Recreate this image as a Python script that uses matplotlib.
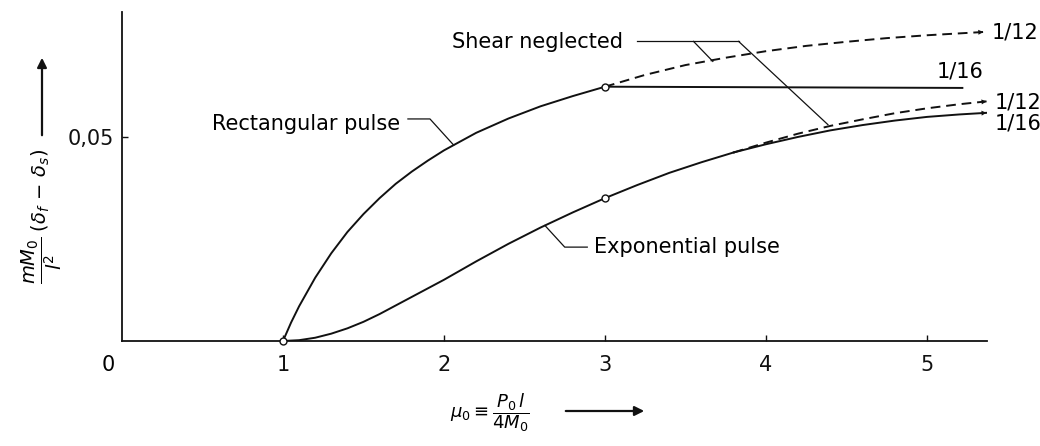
import numpy as np
import matplotlib
matplotlib.use("Agg")
import matplotlib.pyplot as plt
from matplotlib import font_manager

# deflection difference vs. load ratio mu_0
rect_x = [1.0, 1.05, 1.1, 1.2, 1.3, 1.4, 1.5, 1.6, 1.7, 1.8, 1.9, 2.0,
          2.2, 2.4, 2.6, 2.8, 3.0]
rect_y = [0.0, 0.0045, 0.0085, 0.0155, 0.0215, 0.0267, 0.0311, 0.0350, 0.0385,
          0.0415, 0.0442, 0.0467, 0.0510, 0.0545, 0.0575, 0.0600, 0.0623]

rect_12_x = [3.0, 3.25, 3.5, 3.75, 4.0, 4.25, 4.5, 4.75, 5.0, 5.35]
rect_12_y = [0.0623, 0.0652, 0.0676, 0.0694, 0.0710, 0.0723, 0.0733, 0.0742,
             0.0749, 0.0757]

rect_16_x = [3.0, 5.22]
rect_16_y = [0.0623, 0.0620]

exp_x = [1.0, 1.1, 1.2, 1.3, 1.4, 1.5, 1.6, 1.7, 1.8, 1.9, 2.0, 2.2, 2.4, 2.6,
         2.8, 3.0, 3.2, 3.4, 3.6, 3.8]
exp_y = [0.0, 0.0002, 0.0008, 0.0018, 0.0031, 0.0047, 0.0066, 0.0087, 0.0108,
         0.0129, 0.0150, 0.0195, 0.0238, 0.0278, 0.0315, 0.0350, 0.0382, 0.0412,
         0.0438, 0.0462]

exp_12_x = [3.8, 4.0, 4.2, 4.4, 4.6, 4.8, 5.0, 5.2, 5.37]
exp_12_y = [0.0462, 0.0486, 0.0508, 0.0527, 0.0543, 0.0558, 0.0570, 0.0580, 0.0587]

exp_16_x = [3.8, 4.0, 4.2, 4.4, 4.6, 4.8, 5.0, 5.2, 5.37]
exp_16_y = [0.0462, 0.0482, 0.0500, 0.0516, 0.0529, 0.0540, 0.0549, 0.0555, 0.0559]

# open circles where the curves start / split
circ_x = [1.0, 3.0, 3.0]
circ_y = [0.0, 0.0623, 0.0350]

xticks = [1, 2, 3, 4, 5]
xtick_labels = ["1", "2", "3", "4", "5"]
yticks = [0.05]
ytick_labels = ["0,05"]

names = {f.name for f in font_manager.fontManager.ttflist}
fam = "Liberation Sans Narrow" if "Liberation Sans Narrow" in names else "DejaVu Sans"
plt.rcParams["font.family"] = [fam, "DejaVu Sans"]
plt.rcParams["mathtext.fontset"] = "dejavusans"

fig = plt.figure(figsize=(10.4, 4.46), dpi=100)
ax = fig.add_axes([122 / 1040, 1 - 341 / 446, 865 / 1040, 329 / 446])
ax.set_xlim(0, 5.373)
ax.set_ylim(0, 0.0806)

lw = 1.4
k = "#111111"
dash = (0, (5, 3))
ax.plot(rect_x, rect_y, color=k, lw=lw)
ax.plot(rect_12_x, rect_12_y, color=k, lw=lw, linestyle=dash)
ax.plot(rect_16_x, rect_16_y, color=k, lw=lw)
ax.plot(exp_x, exp_y, color=k, lw=lw)
ax.plot(exp_12_x, exp_12_y, color=k, lw=lw, linestyle=dash)
ax.plot(exp_16_x, exp_16_y, color=k, lw=lw)
ax.plot(circ_x, circ_y, "o", ms=5, mfc="white", mec=k, mew=1.0, clip_on=False, zorder=5)

# small arrowheads at the ends of the curves
for xs, ys in [(rect_12_x, rect_12_y), (exp_12_x, exp_12_y), (exp_16_x, exp_16_y)]:
    ax.annotate("", xy=(xs[-1], ys[-1]), xytext=(xs[-2], ys[-2]),
                arrowprops=dict(arrowstyle="-|>", color=k, lw=0, mutation_scale=9,
                                shrinkA=0, shrinkB=0), annotation_clip=False)

fs = 15
ax.text(5.40, 0.0757, "1/12", fontsize=fs, va="center", ha="left")
ax.text(5.205, 0.0661, "1/16", fontsize=fs, va="center", ha="center")
ax.text(5.42, 0.0585, "1/12", fontsize=fs, va="center", ha="left")
ax.text(5.42, 0.0532, "1/16", fontsize=fs, va="center", ha="left")

# leader lines and their labels
ll = dict(color=k, lw=0.9)
ax.text(2.05, 0.0732, "Shear neglected", fontsize=fs, va="center", ha="left")
ax.plot([3.20, 3.83], [0.0734, 0.0734], **ll)
ax.plot([3.55, 3.67], [0.0734, 0.0685], **ll)
ax.plot([3.83, 4.385], [0.0734, 0.0530], **ll)

ax.text(1.73, 0.0532, "Rectangular pulse", fontsize=fs, va="center", ha="right")
ax.plot([1.776, 1.913, 2.06], [0.0544, 0.0544, 0.0480], **ll)

ax.text(2.93, 0.0230, "Exponential pulse", fontsize=fs, va="center", ha="left")
ax.plot([2.627, 2.75, 2.89], [0.0283, 0.0230, 0.0230], **ll)

for s in ["top", "right"]:
    ax.spines[s].set_visible(False)
for s in ["left", "bottom"]:
    ax.spines[s].set_linewidth(1.3)
    ax.spines[s].set_color(k)

ax.set_xticks(xticks)
ax.set_xticklabels(xtick_labels, fontsize=fs)
ax.set_yticks(yticks)
ax.set_yticklabels(ytick_labels, fontsize=fs)
ax.tick_params(direction="in", length=4, width=1.0, colors=k, pad=10)
ax.tick_params(axis="y", pad=6)
ax.annotate("0", xy=(0, 0), xytext=(-10, -17), textcoords="offset points",
            fontsize=fs, ha="center", va="center", annotation_clip=False)

# axis titles with arrows
fig.text(450 / 1040, 1 - 413 / 446, r"$\mu_0 \equiv \dfrac{P_0\, l}{4 M_0}$",
         fontsize=13, ha="left", va="center")
fig.patches.append(matplotlib.patches.FancyArrowPatch(
    (563 / 1040, 1 - 411 / 446), (647 / 1040, 1 - 411 / 446), transform=fig.transFigure,
    arrowstyle="-|>", mutation_scale=14, color=k, lw=1.6))

fig.text(42 / 1040, 1 - 216 / 446, r"$\dfrac{m M_0}{l^2}\;(\delta_f\, -\, \delta_s)$",
         fontsize=14, rotation=90, ha="center", va="center")
fig.patches.append(matplotlib.patches.FancyArrowPatch(
    (42 / 1040, 1 - 138 / 446), (42 / 1040, 1 - 55 / 446), transform=fig.transFigure,
    arrowstyle="-|>", mutation_scale=14, color=k, lw=1.6))

fig.savefig("out.png", dpi=100)
